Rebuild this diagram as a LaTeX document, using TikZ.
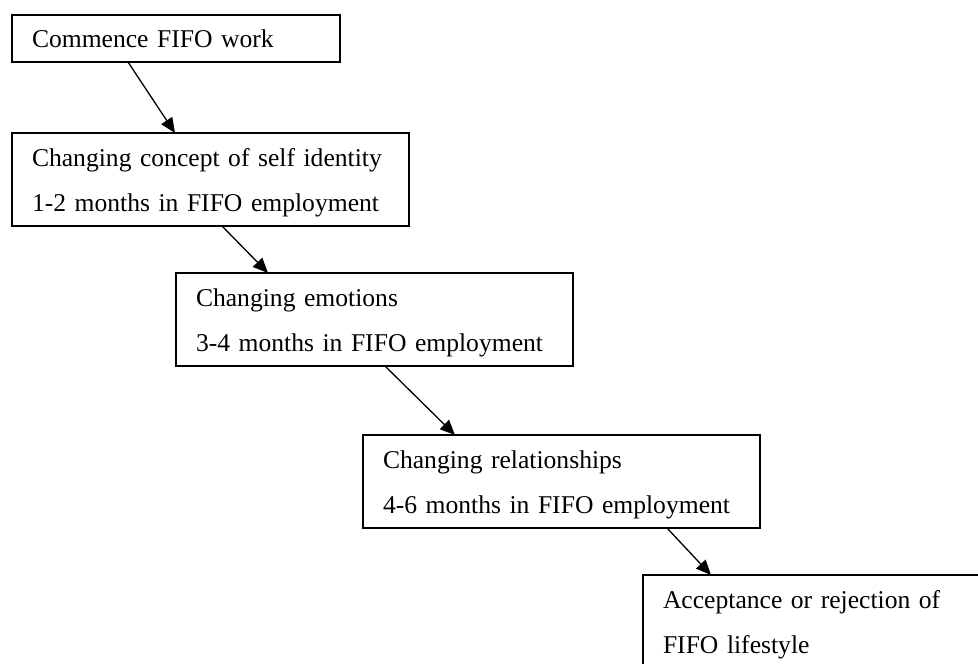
\documentclass[tikz,border=0pt]{standalone}
\usepackage{fontspec}
\setmainfont{Liberation Serif}
\usetikzlibrary{arrows.meta}
\tikzset{
  stage/.style={draw, line width=1.2pt, outer sep=0pt, anchor=north west,
    minimum height=93pt, text width=357pt, inner xsep=20pt, inner ysep=0pt,
    align=left, font=\fontsize{25.6}{45}\selectfont}
}
\begin{document}
\begin{tikzpicture}[x=1pt,y=-1pt]
      \clip (0,0) rectangle (978,664);
      \draw
        (12,15) node[stage, text width=288pt, minimum height=47pt] (start){\strut Commence FIFO work}
        (12,133) node[stage] (identity){\strut Changing concept of self identity\\\strut 1-2 months in FIFO employment}
        (176,273) node[stage] (emotions){\strut Changing emotions\\\strut 3-4 months in FIFO employment}
        (363,435) node[stage] (relations){\strut Changing relationships\\\strut 4-6 months in FIFO employment}
        (643,575) node[stage] (outcome){\strut Acceptance or rejection of\\\strut FIFO lifestyle};
      \begin{scope}[-{Triangle[length=15pt,width=13pt]}, line width=1.3pt]
        \draw ([xshift=116pt]start.south west) to ([xshift=163pt]identity.north west);
        \draw ([xshift=210pt]identity.south west) to ([xshift=92pt]emotions.north west);
        \draw ([xshift=209pt]emotions.south west) to ([xshift=92pt]relations.north west);
        \draw ([xshift=304pt]relations.south west) to ([xshift=68pt]outcome.north west);
      \end{scope}
    \end{tikzpicture}
\end{document}
